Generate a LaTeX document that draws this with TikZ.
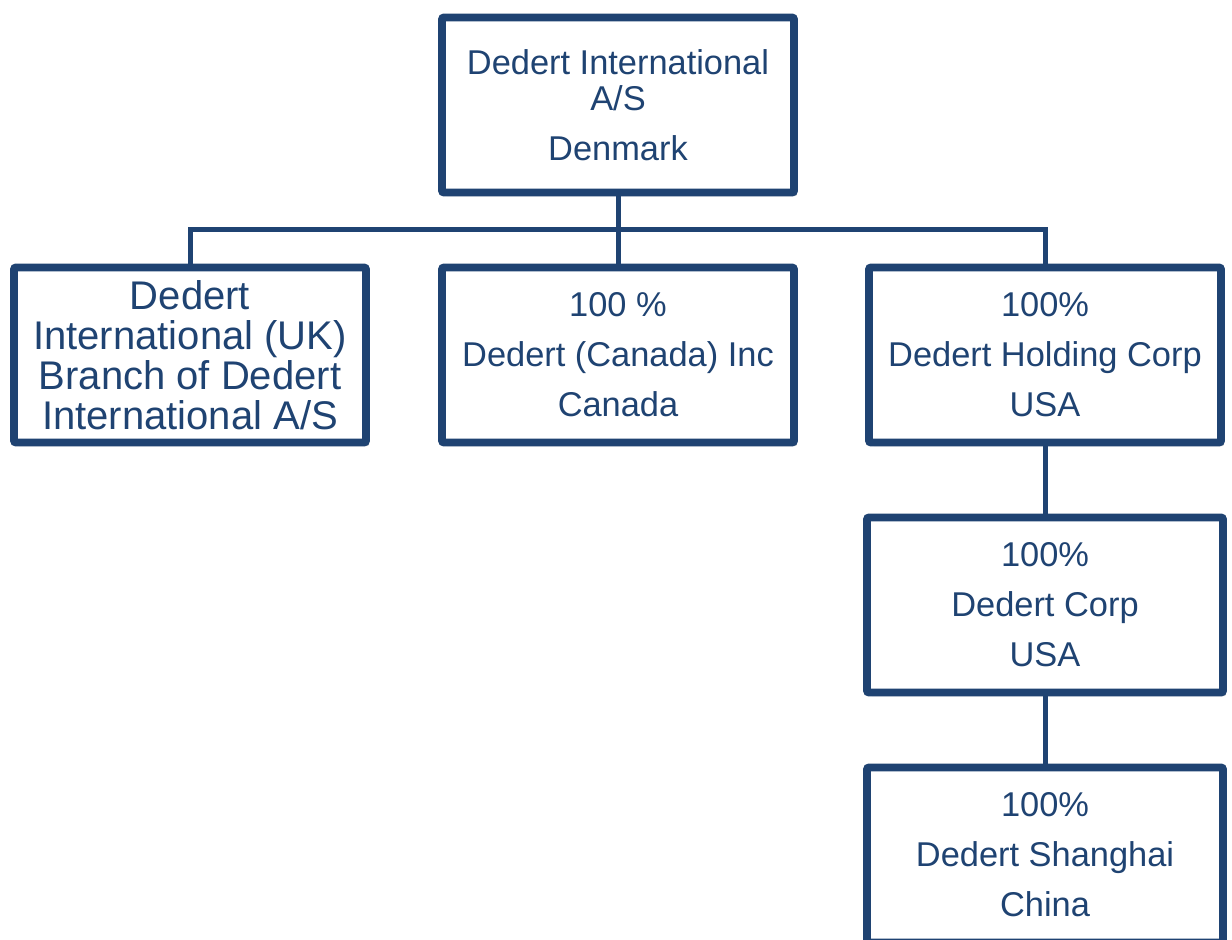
\documentclass[tikz,border=0pt]{standalone}
\usepackage{fontspec}
\setmainfont{Liberation Sans}
\usetikzlibrary{shadows}
\definecolor{dedertblue}{HTML}{1F4372}
\begin{document}
\begin{tikzpicture}[x=0.5pt,y=-0.5pt,
    unit/.style={draw=dedertblue, line width=3.9pt, fill=white, rounded corners=1pt,
        text=dedertblue, align=center, inner sep=0pt,
        minimum width=176pt, minimum height=87.5pt,
        font=\fontsize{17.2}{25}\selectfont,
        drop shadow={shadow xshift=1.5pt, shadow yshift=-1.8pt, opacity=0.4}},
    link/.style={draw=dedertblue, line width=2.5pt}]

\useasboundingbox (0,0) rectangle (1232,940);

\node[unit, font=\fontsize{17.2}{18}\selectfont] (dia) at (618,105) {Dedert International\\A/S\\[7pt]Denmark};

\node[unit, font=\fontsize{20}{20}\selectfont] (diuk) at (190,355)
    {Dedert\\International (UK)\\Branch of Dedert\\International A/S};
\node[unit] (canada) at (618,355) {100 \%\\Dedert (Canada) Inc\\Canada};
\node[unit] (holding) at (1045,355) {100\%\\Dedert Holding Corp\\USA};
\node[unit, minimum width=178pt] (corp) at (1045,605) {100\%\\Dedert Corp\\USA};
\node[unit, minimum width=178pt] (shanghai) at (1045,855) {100\%\\Dedert Shanghai\\China};

\coordinate (bus) at (618,230);

\begin{scope}[on background layer/.try]
\draw[link] (dia.south) -- (canada.north);
\draw[link] (diuk.north) |- (bus) -| (holding.north);
\draw[link] (holding.south) -- (corp.north);
\draw[link] (corp.south) -- (shanghai.north);
\end{scope}

\end{tikzpicture}
\end{document}
